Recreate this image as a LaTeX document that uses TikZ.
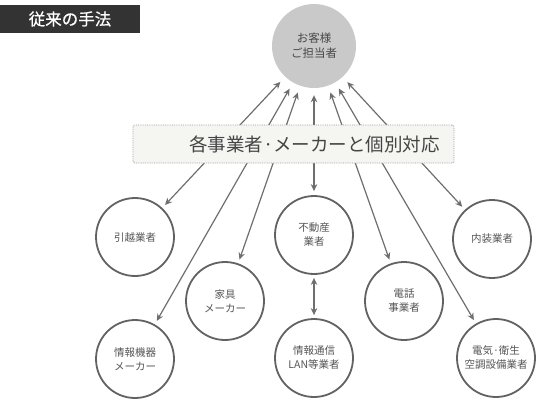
\documentclass[tikz,border=0pt]{standalone}
\usepackage{fontspec}
\newfontfamily\jp{Noto Sans CJK JP}
\newfontfamily\jpmed[FakeBold=0.6]{Noto Sans CJK JP}
\usetikzlibrary{arrows.meta}
\definecolor{circ}{HTML}{626262}
\definecolor{ln}{HTML}{6E6E6E}
\definecolor{txt}{HTML}{555555}
\definecolor{topfill}{HTML}{C9C9C9}
\definecolor{banfill}{HTML}{F5F5F2}
\definecolor{banline}{HTML}{9A9A9A}
\definecolor{titlebg}{HTML}{333333}
\begin{document}
\begin{tikzpicture}[x=1pt,y=-1pt,
  company/.style={circle, draw=circ, fill=white, line width=1.8pt, minimum size=78pt, inner sep=0pt, font=\jp\fontsize{10.5}{14}\selectfont, text=txt, align=center},
  customer/.style={circle, fill=topfill, minimum size=84pt, inner sep=0pt, font=\jp\fontsize{11.5}{15}\selectfont, text=txt!85!black, align=center},
  conn/.style={draw=ln, line width=1.2pt, {Stealth[length=7pt,width=6.5pt]}-{Stealth[length=7pt,width=6.5pt]}, shorten <=4pt, shorten >=7pt},
  dbl/.style={draw=ln, line width=1.2pt, {Stealth[length=7pt,width=6.5pt]}-{Stealth[length=7pt,width=6.5pt]}, shorten <=3pt, shorten >=3pt},
  banner/.style={rectangle, rounded corners=2pt, draw=banline, densely dotted, line width=0.8pt, fill=banfill, minimum width=321pt, minimum height=38pt, inner sep=0pt},
  bantext/.style={font=\jp\fontsize{18.5}{21}\selectfont, text=txt!80!black, inner sep=0pt},
  titlebox/.style={rectangle, fill=titlebg, minimum width=140pt, minimum height=28pt, inner sep=0pt, font=\jpmed\fontsize{16.5}{19}\selectfont, text=white}
]
\useasboundingbox (0,0) rectangle (543,408);

% title
\node[titlebox] (title) at (70,19) {従来の手法};

% customer
\node[customer] (top) at (314,46) {お客様\\ご担当者};

% companies
\node[company] (hikkoshi) at (135,237) {引越業者};
\node[company] (fudosan) at (314,235) {不動産\\業者};
\node[company] (naiso) at (492,239) {内装業者};
\node[company] (kagu) at (225,301) {家具\\メーカー};
\node[company] (denwa) at (404,301) {電話\\事業者};
\node[company] (joho) at (135,359) {情報機器\\メーカー};
\node[company] (lan) at (314,358) {情報通信\\LAN等業者};
\node[company] (denki) at (496,358) {電気·衛生\\空調設備業者};

% connectors (behind banner)
\draw[conn] (hikkoshi) -- (top);
\draw[conn] (joho) -- (top);
\draw[conn] (kagu) -- (top);
\draw[conn] (fudosan) -- (top);
\draw[conn] (denwa) -- (top);
\draw[conn] (denki) -- (top);
\draw[conn] (naiso) -- (top);
\draw[dbl] (fudosan) -- (lan);

% banner
\node[banner] (ban) at (293.5,144) {};
\node[bantext] (bantxt) at (314.5,144.5) {各事業者·メーカーと個別対応};
\end{tikzpicture}
\end{document}
